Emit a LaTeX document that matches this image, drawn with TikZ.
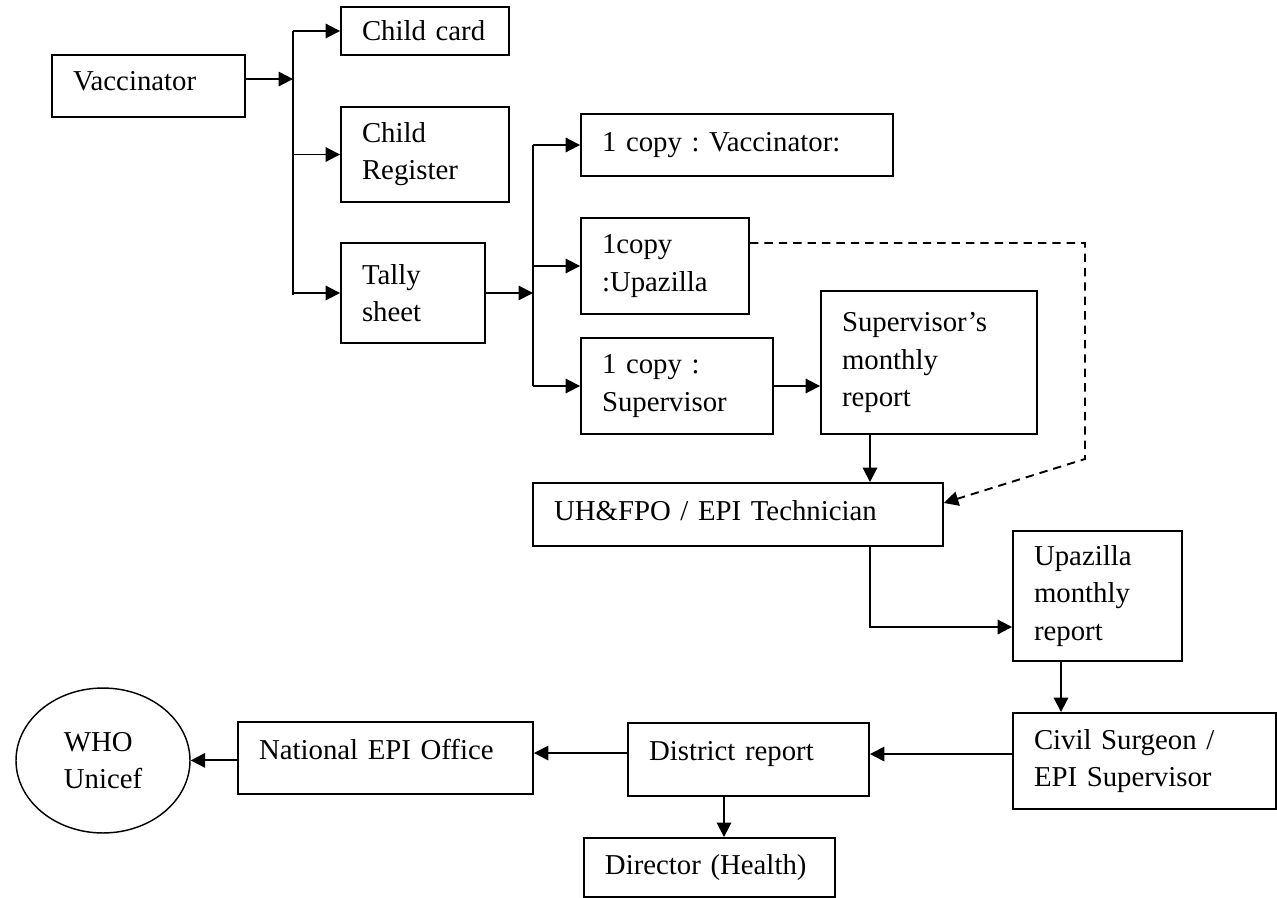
\documentclass[tikz,border=0pt]{standalone}
\usepackage{fontspec}
\setmainfont{Liberation Serif}
\usetikzlibrary{arrows.meta,shapes.geometric}

\begin{document}
\begin{tikzpicture}[x=0.4167pt,y=-0.4167pt,->,>={Triangle[length=6pt,width=6pt]},
                    line width=0.8pt, font=\fontsize{12}{15.5}\selectfont\frenchspacing,
                    box/.style={draw,align=left,inner xsep=8.75pt,inner ysep=2pt},
                    oval/.style={draw,ellipse,align=left,line width=0.6pt,inner sep=1pt},
                    dashline/.style={dash pattern=on 3.5pt off 2.5pt},
                ]
  \useasboundingbox[-] (0,0) rectangle (1277,898);

  % sheets filled in by the vaccinator
  \node[box,minimum width=80.4pt,minimum height=25.8pt,text width=62.9pt,text depth=4pt] (vacc) at (148.5,86) {Vaccinator};
  \node[box,minimum width=70pt,minimum height=20pt,text width=52.5pt]       (card)  at (425,31)     {Child card};
  \node[box,minimum width=70pt,minimum height=39.6pt,text width=52.5pt]     (reg)   at (425,154.5)  {Child\\Register};
  \node[box,minimum width=60pt,minimum height=41.7pt,text width=42.5pt]     (tally) at (413,293)    {Tally\\sheet};

  % copies of the tally sheet
  \node[box,minimum width=130pt,minimum height=25.8pt,text width=112.5pt]   (cvacc) at (737,145)    {1 copy : Vaccinator:};
  \node[box,minimum width=70pt,minimum height=40pt,text width=52.5pt]       (cupa)  at (665,266)    {1copy\\:Upazilla};
  \node[box,minimum width=80pt,minimum height=40pt,text width=62.5pt]       (csup)  at (677,386)    {1 copy :\\Supervisor};
  \node[box,minimum width=90pt,minimum height=59.6pt,text width=72.5pt]     (smr)   at (929,362.5)  {Supervisor's\\monthly\\report};

  % upazilla and district level
  \node[box,minimum width=170.8pt,minimum height=26.25pt,text width=153.3pt,text depth=3pt] (uh) at (738,514.5) {UH\&FPO / EPI Technician};
  \node[box,minimum width=70.4pt,minimum height=54.2pt,text width=52.9pt]   (umr)   at (1097.5,596) {Upazilla\\monthly\\report};
  \node[box,minimum width=109.6pt,minimum height=40pt,text width=92.1pt]    (cs)    at (1144.5,761) {Civil Surgeon /\\EPI Supervisor};
  \node[box,minimum width=100.4pt,minimum height=30.4pt,text width=82.9pt,text depth=7pt]  (dist) at (748.5,759.5) {District report};
  \node[box,minimum width=122.9pt,minimum height=30pt,text width=105.4pt,text depth=7pt]   (nat)  at (385.5,758)   {National EPI Office};
  \node[box,minimum width=104.6pt,minimum height=24.6pt,text width=87.1pt]  (dir)   at (709.5,867.5) {Director (Health)};
  \node[oval,minimum width=72.5pt,minimum height=60.4pt]                    (who)   at (103,760.5)  {WHO\\Unicef};

  % bends of the connectors
  \coordinate (b1)   at (293,0);
  \coordinate (b2)   at (533,0);
  \coordinate (s2u)  at (870,627);
  \coordinate (u2c)  at (1061,0);
  \coordinate (d2d)  at (724,0);
  \coordinate (dtop) at (1085,243);
  \coordinate (dbot) at (1085,459);

  \draw ([yshift=2.9pt]vacc.east) -- ([yshift=2.9pt]vacc.east -| b1);
  \draw[-] (b1 |- card.west) -- ([yshift=-1pt]b1 |- tally.west);
  \draw (b1 |- card.west)  -- (card.west);
  \draw (b1 |- reg.west)   -- (reg.west);
  \draw (b1 |- tally.west) -- (tally.west);

  \draw (tally.east) -- (tally.east -| b2);
  \draw[-] (b2 |- cvacc.west) -- (b2 |- csup.west);
  \draw (b2 |- cvacc.west) -- (cvacc.west);
  \draw (b2 |- cupa.west)  -- (cupa.west);
  \draw (b2 |- csup.west)  -- (csup.west);
  \draw (csup.east) -- (csup.east -| smr.west);

  \draw (smr.south -| s2u) -- (uh.north -| s2u);
  \draw[dashline] (cupa.east |- dtop) -- (dtop) -- (dbot) -- ([yshift=4.8pt]uh.east);
  \draw (uh.south -| s2u) -- (s2u) -- (s2u -| umr.west);
  \draw (umr.south -| u2c) -- (cs.north -| u2c);

  \draw ([yshift=2.9pt]cs.west)   -- ([yshift=2.9pt]cs.west -| dist.east);
  \draw ([yshift=2.7pt]dist.west) -- ([yshift=2.7pt]dist.west -| nat.east);
  \draw ([yshift=-1pt]nat.west)   -- ([yshift=-1pt]nat.west -| who.east);
  \draw (dist.south -| d2d) -- (dir.north -| d2d);
\end{tikzpicture}
\end{document}
